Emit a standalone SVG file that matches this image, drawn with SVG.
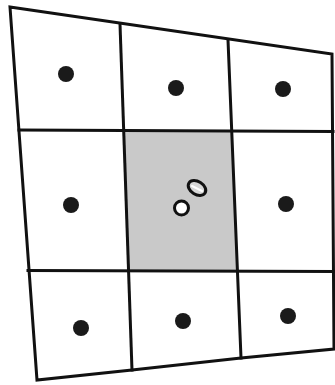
<svg xmlns="http://www.w3.org/2000/svg" width="335" height="385" viewBox="0 0 335 385">
<style>
.grid{fill:none;stroke:#111;stroke-width:3;stroke-linejoin:miter;stroke-linecap:square}
.dot{fill:#1a1a1a}
</style>
<rect width="335" height="385" fill="#fff"/>
<g id="center-cell">
<polygon points="123,131 231,131 237,271 128,271" fill="#c9c9c9"/>
</g>
<g id="connectors">
<polygon class="grid" points="10,7 332,54 334,349 241,358 132,370 37,380"/>
<polyline class="grid" points="120,24 132,370"/>
<polyline class="grid" points="228,40 241,358"/>
<polyline class="grid" points="19,130 333,131.5"/>
<polyline class="grid" points="28,270.5 334,271.5"/>
</g>
<g id="c11"><circle class="dot" cx="66" cy="74" r="8"/></g>
<g id="c12"><circle class="dot" cx="176" cy="88" r="8"/></g>
<g id="c13"><circle class="dot" cx="283" cy="89" r="8"/></g>
<g id="c21"><circle class="dot" cx="71" cy="205" r="8"/></g>
<g id="c22">
<ellipse cx="197" cy="188" rx="9.5" ry="6.5" transform="rotate(32 197 188)" fill="#d8d8d8" stroke="#111" stroke-width="3"/>
<line x1="192" y1="186" x2="202" y2="191" stroke="#fff" stroke-width="2" stroke-linecap="round"/>
<circle cx="181.5" cy="208" r="7" fill="#fff" stroke="#111" stroke-width="3"/>
</g>
<g id="c23"><circle class="dot" cx="286" cy="204" r="8"/></g>
<g id="c31"><circle class="dot" cx="81" cy="328" r="8"/></g>
<g id="c32"><circle class="dot" cx="183" cy="321" r="8"/></g>
<g id="c33"><circle class="dot" cx="288" cy="316" r="8"/></g>
</svg>
